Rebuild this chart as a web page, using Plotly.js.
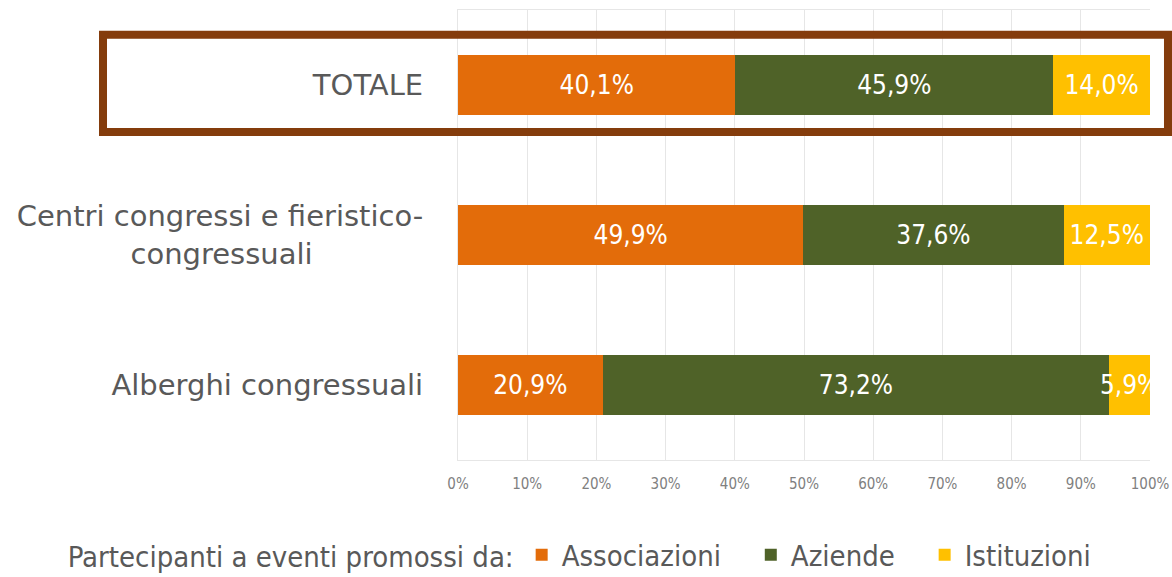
<!DOCTYPE html>
<html>
<head>
<meta charset="utf-8">
<script src="https://cdn.plot.ly/plotly-3.0.1.min.js"></script>
<style>html,body{margin:0;padding:0;background:#fff;}#chart{width:1172px;height:577px;}</style>
</head>
<body>
<div id="chart"></div>
<script>
// Data
const categories = ["TOTALE", "Centri congressi e fieristico-<br>congressuali\u00A0\u00A0\u00A0\u00A0\u00A0\u00A0\u00A0\u00A0\u00A0\u00A0\u00A0\u00A0", "Alberghi congressuali"];
const seriesNames = ["Associazioni", "Aziende", "Istituzioni"];
const associazioni = [40.1, 49.9, 20.9];
const aziende = [45.9, 37.6, 73.2];
const istituzioni = [14.0, 12.5, 5.9];
const tickVals = [0, 10, 20, 30, 40, 50, 60, 70, 80, 90, 100];
const tickLabels = ["0%", "10%", "20%", "30%", "40%", "50%", "60%", "70%", "80%", "90%", "100%"];
const legendTitle = "Partecipanti a eventi promossi da:";

const colors = ["#E36C0A", "#4F6228", "#FFC000"];
const legendPad = ["\u00A0\u00A0\u00A0", "\u00A0\u00A0\u00A0", ""];
const fmt = v => v.toFixed(1).replace('.', ',') + '%';
const condensed = 'DejaVu Sans Condensed, DejaVu Sans, sans-serif';

const allSeries = [associazioni, aziende, istituzioni];
const traces = allSeries.map((vals, i) => ({
  type: 'bar',
  orientation: 'h',
  name: seriesNames[i] + legendPad[i],
  y: categories,
  x: vals,
  width: 0.4,
  marker: {color: colors[i]},
  text: vals.map(fmt),
  textposition: 'inside',
  insidetextanchor: 'middle',
  textangle: 0,
  constraintext: 'none',
  textfont: {color: '#ffffff', size: 26, family: condensed},
  hoverinfo: 'skip',
  cliponaxis: true
}));

const layout = {
  width: 1172,
  height: 577,
  margin: {l: 458, r: 22, t: 10, b: 117, autoexpand: false},
  paper_bgcolor: '#ffffff',
  plot_bgcolor: '#ffffff',
  barmode: 'stack',
  bargap: 0.6,
  showlegend: true,
  xaxis: {
    range: [0, 100],
    tickvals: tickVals,
    ticktext: tickLabels,
    showgrid: true,
    gridcolor: '#E6E6E6',
    gridwidth: 1,
    zeroline: false,
    showline: true,
    linecolor: '#E6E6E6',
    mirror: true,
    ticks: '',
    ticklabelstandoff: 10,
    tickfont: {size: 15, color: '#808080', family: condensed},
    fixedrange: true
  },
  yaxis: {
    autorange: 'reversed',
    showgrid: false,
    zeroline: false,
    showline: true,
    linecolor: '#E6E6E6',
    ticks: '',
    ticklabelstandoff: 28,
    tickfont: {size: 29, color: '#595959', family: 'DejaVu Sans, sans-serif'},
    fixedrange: true
  },
  legend: {
    orientation: 'h',
    x: -0.567,
    xanchor: 'left',
    y: -0.211,
    yanchor: 'middle',
    font: {size: 29, color: '#595959', family: condensed},
    title: {text: legendTitle, side: 'left', font: {size: 29, color: '#595959', family: condensed}},
    itemclick: false,
    itemdoubleclick: false,
    traceorder: 'normal'
  },
  shapes: [{
    type: 'rect',
    xref: 'paper', yref: 'paper',
    x0: -0.513, x1: 1.026,
    y0: 0.729, y1: 0.945,
    line: {color: '#843C0C', width: 8},
    fillcolor: 'rgba(0,0,0,0)',
    layer: 'above'
  }]
};

Plotly.newPlot('chart', traces, layout, {staticPlot: true, displayModeBar: false});
</script>
</body>
</html>
